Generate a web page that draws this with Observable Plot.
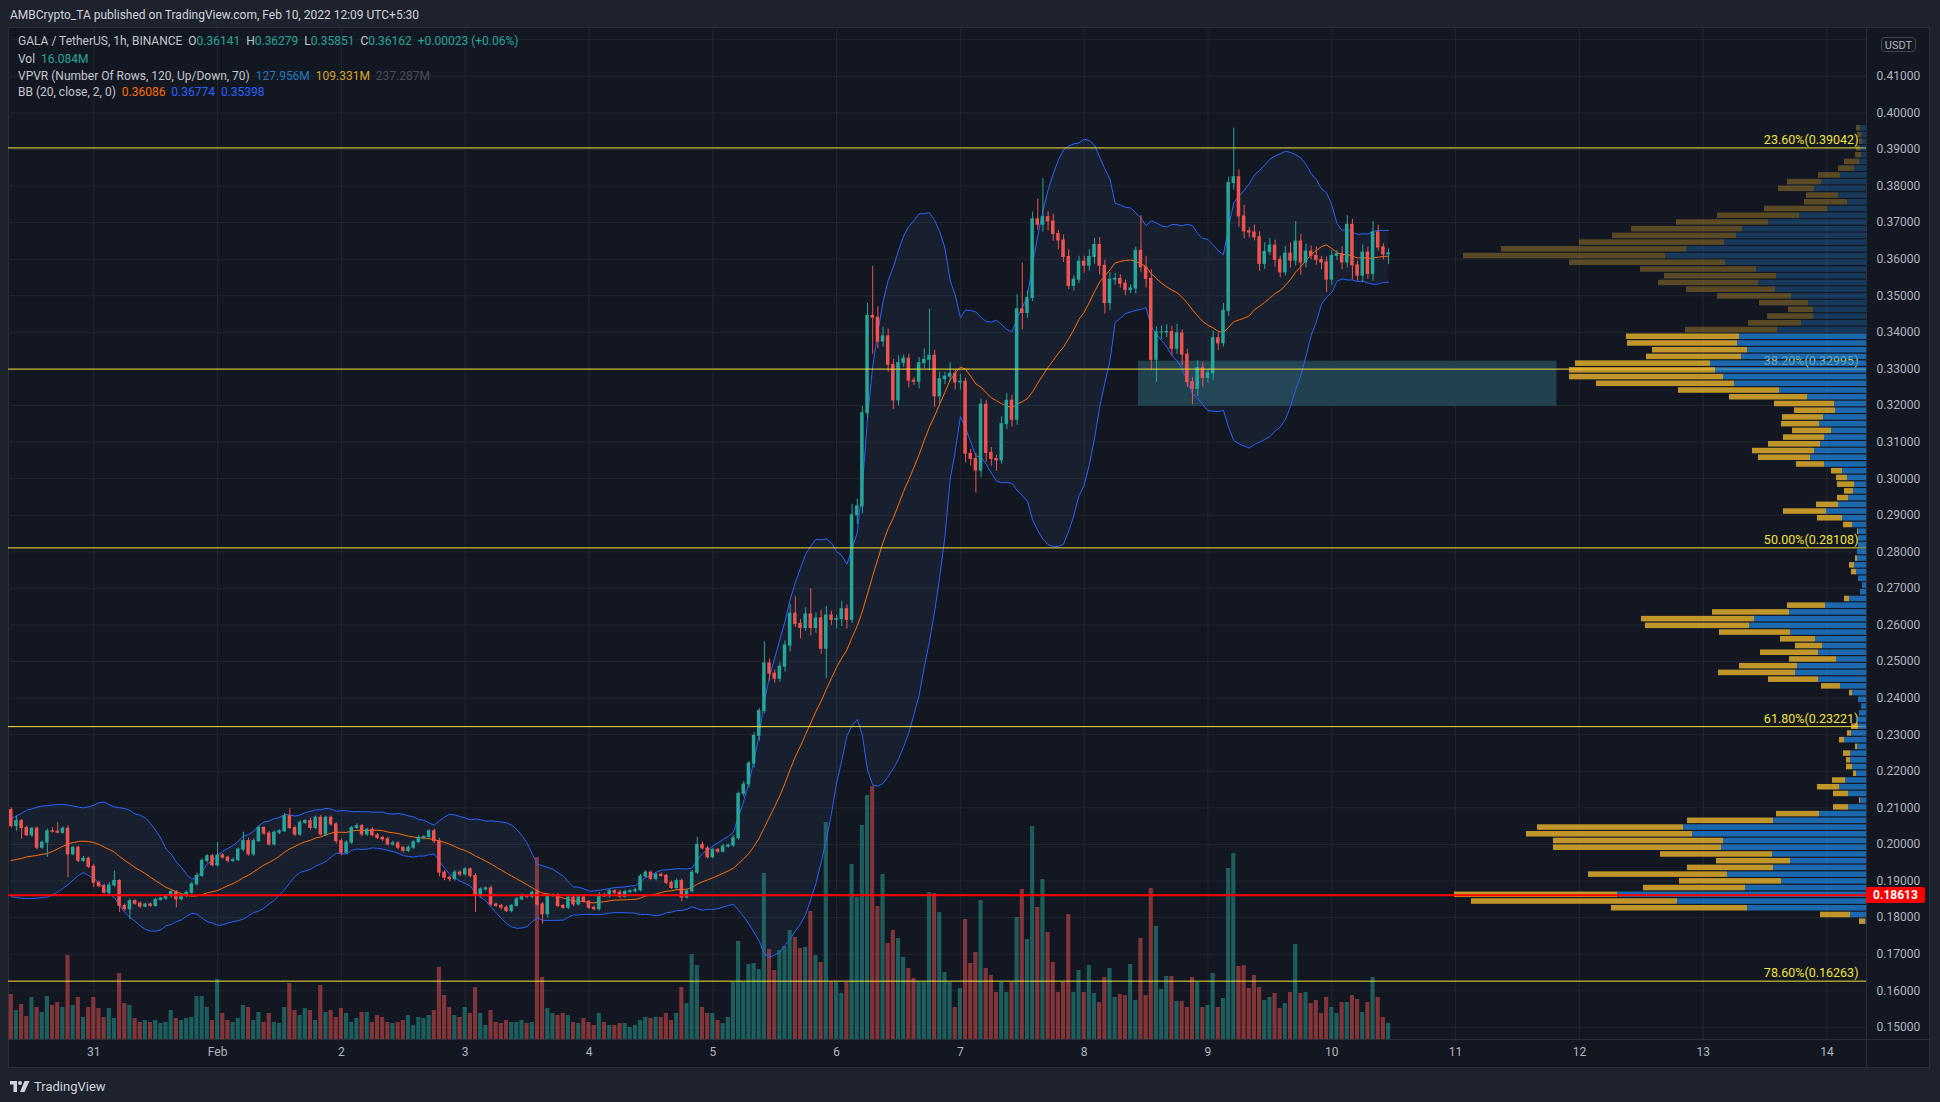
<!DOCTYPE html>
<html><head><meta charset="utf-8">
<script src="https://cdn.jsdelivr.net/npm/d3@7"></script>
<script src="https://cdn.jsdelivr.net/npm/@observablehq/plot@0.6"></script>
<style>
html,body{margin:0;padding:0;background:#1e222d;width:1940px;height:1102px;overflow:hidden;font-family:Roboto,"Noto Sans",sans-serif;}
#wrap{position:relative;width:1940px;height:1102px;}
#panel{position:absolute;left:8px;top:27px;width:1922px;height:1041px;background:#131722;border:1px solid #2a2e39;box-sizing:border-box;}
.layer{position:absolute;left:0;top:0;}
.sepv{position:absolute;left:1866px;top:27px;width:1px;height:1041px;background:#2a2e39;}
.seph{position:absolute;left:8px;top:1039px;width:1922px;height:1px;background:#2a2e39;}
.txt{position:absolute;white-space:pre;font-size:12px;line-height:16px;color:#b2b5be;}
.teal{color:#26a69a}
#redlbl{position:absolute;left:1866px;width:59px;height:16px;background:#ff0000;color:#fff;font-weight:bold;font-size:12px;line-height:16px;text-align:center;border-radius:0 2px 2px 0;}
#usdt{position:absolute;left:1881px;top:37px;width:35px;height:15px;border:1px solid #434651;border-radius:4px;color:#b2b5be;font-size:11px;line-height:15px;text-align:center;box-sizing:border-box;}
</style></head>
<body><div id="wrap">
<div id="panel"></div>
<div id="layers"></div>
<div class="sepv"></div><div class="seph"></div>
<div class="txt" style="left:10px;top:7px;font-size:12px;color:#d1d4dc">AMBCrypto_TA published on TradingView.com, Feb 10, 2022 12:09 UTC+5:30</div>
<div class="txt" style="left:18px;top:33px;color:#c3c6ce">GALA / TetherUS, 1h, BINANCE  O<span class="teal">0.36141</span>  H<span class="teal">0.36279</span>  L<span class="teal">0.35851</span>  C<span class="teal">0.36162</span>  <span class="teal">+0.00023 (+0.06%)</span></div>
<div class="txt" style="left:18px;top:51px;color:#c3c6ce">Vol  <span class="teal">16.084M</span></div>
<div class="txt" style="left:18px;top:68px;color:#c3c6ce">VPVR (Number Of Rows, 120, Up/Down, 70)  <span style="color:#2479c0">127.956M</span>  <span style="color:#d4a52a">109.331M</span>  <span style="color:#4a4e58">237.287M</span></div>
<div class="txt" style="left:18px;top:84px;color:#c3c6ce">BB (20, close, 2, 0)  <span style="color:#ff6d00">0.36086</span>  <span style="color:#2962ff">0.36774</span>  <span style="color:#2962ff">0.35398</span></div>
<div id="usdt">USDT</div>
<div id="redlbl">0.18613</div>
<div style="position:absolute;left:10px;top:1079px;display:flex;align-items:center;gap:4px;color:#d1d4dc;font-size:13px;">
<svg width="20" height="12" viewBox="0 0 20 12"><path d="M0 0h7v11H3.5V3.5H0z" fill="#d1d4dc"/><circle cx="10" cy="2" r="2" fill="#d1d4dc"/><path d="M14.5 0h5l-5 11h-4.5z" fill="#d1d4dc"/></svg>
<span>TradingView</span></div>
</div>
<script>
// ---------- DATA (prices in units of 0.0001) ----------
const P = 1e-4;
const startTime = Date.UTC(2022, 0, 30, 8);   // first hourly candle
const firstOpen = 2094;
const closes = [
 2050,2064,2045,2025,2043,1991,2005,2036,2035,2032,2043,1973,1991,1955,1961,1939,
 1895,1886,1868,1888,1900,1832,1823,1845,1838,1830,1836,1832,1848,1852,1859,1870,1850,1859,1868,1891,1914,1955,1968,1943,
 1970,1964,1955,1957,1986,2009,1973,2009,2045,2030,2000,2032,2036,2077,2045,2027,2059,2064,2045,2073,2027,2073,2055,2009,
 1977,2005,2045,2050,2027,2040,2025,2018,2014,2000,2003,1991,1982,1991,2006,2018,2020,2036,2009,1923,1909,1905,1923,1918,
 1932,1914,1859,1877,1880,1836,1832,1827,1818,1832,1850,1859,1857,1868,1836,1809,1859,1861,1832,1827,1855,1836,1855,1843,
 1827,1823,1862,1858,1872,1868,1857,1870,1872,1875,1912,1923,1906,1917,1914,1895,1881,1900,1855,1872,1923,1999,1989,1965,
 1985,1980,1994,1997,2017,2138,2164,2221,2297,2365,2495,2467,2453,2486,2544,2631,2603,2592,2629,2592,2618,2535,2626,2614,
 2616,2643,2614,2900,2924,3179,3445,3440,3375,3389,3311,3214,3316,3328,3268,3265,3316,3325,3336,3225,3272,3279,3287,3263,
 3265,3068,3054,3022,3202,3070,3054,3050,3149,3213,3161,3463,3453,3494,3709,3694,3715,3703,3669,3651,3606,3527,3544,3593,
 3582,3606,3639,3582,3480,3544,3546,3533,3516,3520,3623,3578,3546,3325,3400,3400,3401,3355,3397,3339,3264,3245,3302,3275,
 3288,3384,3370,3459,3808,3824,3717,3676,3673,3660,3587,3620,3637,3598,3564,3615,3596,3648,3591,3621,3609,3598,3591,3544,
 3609,3614,3591,3694,3583,3555,3618,3560,3673,3632,3613,3616
];
const upperWick = [
 6,13,4,5,3,5,4,6,10,24,5,8,4,5,6,4,
 6,4,5,8,27,4,5,6,4,5,3,4,5,3,4,6,4,3,5,6,8,6,4,5,
 36,5,4,6,5,25,8,6,5,4,6,5,4,8,21,5,6,4,8,5,6,4,5,4,
 6,5,4,7,5,4,6,5,4,5,6,4,3,5,4,6,5,4,6,8,5,4,6,5,
 5,4,6,5,4,6,3,4,5,4,5,6,4,5,8,5,7,4,5,4,6,5,4,5,
 4,5,6,4,5,4,6,5,4,5,6,5,4,4,5,4,5,6,5,4,6,20,8,6,
 5,4,6,4,7,5,8,6,9,7,60,12,10,10,12,25,46,12,18,70,15,22,25,12,
 10,22,12,30,20,18,35,136,30,25,20,15,20,10,12,8,15,30,127,15,20,12,30,10,
 20,10,12,15,15,12,15,10,20,20,15,40,126,20,20,55,105,15,20,10,15,20,10,15,
 15,20,18,20,15,20,15,12,10,10,10,96,30,25,15,18,20,15,25,10,15,12,20,15,
 10,20,15,20,16,134,20,30,10,20,15,25,20,15,10,20,30,55,20,20,15,25,10,15,
 15,10,20,25,15,12,20,15,30,20,10,12
];
const lowerWick = [
 5,14,31,4,6,6,4,40,4,3,4,64,4,5,4,5,
 13,5,4,6,5,18,6,28,4,5,3,4,4,3,5,6,23,4,5,4,5,4,6,4,
 5,4,6,5,4,6,5,5,4,6,5,4,5,3,4,6,5,4,6,5,4,6,5,8,
 8,4,5,4,6,5,4,5,6,4,5,6,5,4,5,4,6,5,7,12,8,6,5,6,
 4,6,45,5,4,5,4,6,4,5,3,4,5,6,5,27,10,4,5,4,5,6,4,3,
 5,4,5,3,4,5,6,4,5,4,5,4,5,6,4,5,4,5,12,4,5,5,4,5,
 4,5,3,4,5,6,8,10,12,15,8,20,12,10,15,18,10,30,10,22,15,15,82,15,
 25,20,25,10,25,20,15,100,20,15,20,25,15,12,20,10,20,15,30,30,20,15,15,20,
 20,25,20,62,20,25,20,30,10,15,20,15,46,15,10,15,20,25,20,25,15,10,15,10,
 20,15,20,25,30,20,15,12,15,10,15,15,25,30,62,20,15,20,15,30,15,43,20,25,
 15,20,20,10,15,20,30,20,15,10,20,15,10,20,15,10,20,15,35,15,10,15,20,35,
 15,12,20,15,40,15,20,15,20,10,15,28
];
// hourly volume, millions
const volumes = [
 45,29,35,23,42,32,27,43,34,37,32,84,34,42,22,32,
 42,31,22,31,21,66,36,34,21,17,19,17,19,16,17,29,21,19,21,22,43,43,32,19,
 60,26,19,17,21,34,32,19,27,17,26,17,16,32,56,29,24,31,29,19,54,27,29,22,
 31,26,17,21,27,27,17,24,22,17,16,17,19,24,14,22,21,24,29,72,44,32,24,22,
 32,26,52,26,14,29,17,16,19,17,17,19,16,17,182,62,31,26,24,26,24,17,16,21,
 17,14,26,17,14,14,16,16,12,14,19,22,21,22,22,26,19,26,52,36,85,74,32,26,
 26,19,16,22,57,98,57,75,76,70,166,90,69,89,93,109,102,91,92,128,84,77,217,57,
 57,46,57,175,142,214,244,253,133,165,96,109,101,82,71,61,57,57,147,146,127,67,57,32,
 51,120,76,87,139,71,64,47,57,47,57,122,150,100,213,132,160,107,77,47,57,125,47,69,
 47,74,46,37,62,71,42,45,44,75,39,101,44,151,113,50,63,63,38,38,32,62,57,32,
 34,66,32,41,171,186,73,74,51,64,52,39,42,46,31,36,47,95,46,47,36,39,26,42,
 32,26,37,37,44,40,27,37,62,42,22,16.084
];
// Bollinger values before the first full 20-bar window
const bbUpperHead = [2070,2078,2085,2094,2097,2102,2105,2106,2108,2109,2109,2108,2105,2102,2100,2103,2107,2114,2116];
const bbBasisHead = [1956,1959,1962,1966,1968,1970,1973,1975,1981,1988,1995,2002,2005,2008,2009,2008,2005,2000,1993];
const bbLowerHead = [1857,1855,1853,1852,1852,1853,1855,1856,1862,1870,1880,1890,1903,1915,1923,1915,1908,1895,1880];

// Volume profile (VPVR), 119 rows listed from top (high) to bottom (low)
const vpHigh = 0.39670, vpLow = 0.17797;
const vpUp = [6,5,4,6,5,7,12,26,45,52,28,19,39,67,98,124,130,142,180,201,141,110,90,108,91,75,58,53,53,65,89,127,129,119,125,156,151,143,132,87,59,32,31,43,47,35,42,46,52,56,42,24,19,12,13,18,28,40,24,14,8,8,8,9,9,12,10,8,4,6,17,41,77,112,117,76,51,44,48,30,69,71,48,26,14,8,5,7,9,8,15,22,9,16,16,14,10,21,27,18,6,18,47,93,183,174,143,145,94,76,93,139,85,121,249,189,119,16,1];
const vpDown = [4,4,3,4,6,15,16,22,34,36,32,43,63,82,92,111,124,145,185,202,156,116,112,100,89,74,49,25,46,53,92,113,110,95,95,135,146,154,138,101,78,60,41,41,38,39,41,52,62,52,28,11,11,17,9,11,22,43,25,9,1,0,0,0,2,5,5,0,0,0,5,38,77,113,104,71,35,27,58,47,58,77,50,19,3,0,0,0,0,7,4,5,2,7,4,6,3,13,22,15,1,15,43,86,146,166,170,168,112,74,86,139,102,102,163,206,136,30,6];
const vpValueAreaFirstRow = 31;

// Fibonacci levels and horizontal line
const fibLevels = [0.39042, 0.32995, 0.28108, 0.23221, 0.16263];
const fibLabels = ["23.60%(0.39042)", "38.20%(0.32995)", "50.00%(0.28108)", "61.80%(0.23221)", "78.60%(0.16263)"];
const redLevel = 0.18613;
const zone = {start: "2022-02-08T10:30Z", end: "2022-02-11T19:40Z", low: 0.31973, high: 0.33211};

// Axes
const priceTicks = [0.15,0.16,0.17,0.18,0.19,0.20,0.21,0.22,0.23,0.24,0.25,0.26,0.27,0.28,0.29,0.30,0.31,0.32,0.33,0.34,0.35,0.36,0.37,0.38,0.39,0.40,0.41];
const priceGrid = priceTicks.concat([0.42]);
const dayDates = ["2022-01-31","2022-02-01","2022-02-02","2022-02-03","2022-02-04","2022-02-05","2022-02-06","2022-02-07","2022-02-08","2022-02-09","2022-02-10","2022-02-11","2022-02-12","2022-02-13","2022-02-14"];
const dayLabels = ["31","Feb","2","3","4","5","6","7","8","9","10","11","12","13","14"];

// ---------- BUILD ----------
const H = 3600e3;
const base = Date.UTC(2022, 0, 31);
const xDomain = [new Date(base - 16.54 * H), new Date(base + 343.66 * H)];
const yDomain = [0.14668, 0.42334];
const UP = "#26a69a", DOWN = "#ef5350";

const candles = closes.map((c, i) => {
  const o = i === 0 ? firstOpen : closes[i - 1];
  return {
    t: new Date(startTime + i * H),
    o: o * P, c: c * P,
    h: (Math.max(o, c) + upperWick[i]) * P,
    l: (Math.min(o, c) - lowerWick[i]) * P,
    up: c >= o, v: volumes[i]
  };
});
const bb = candles.map((d, i) => {
  if (i < 19) return {t: d.t, u: bbUpperHead[i] * P, m: bbBasisHead[i] * P, l: bbLowerHead[i] * P};
  const w = candles.slice(i - 19, i + 1).map(k => k.c);
  const m = d3.mean(w);
  const sd = Math.sqrt(d3.mean(w, v => (v - m) ** 2));
  return {t: d.t, u: m + 2 * sd, m, l: m - 2 * sd};
});
const rowH = (vpHigh - vpLow) / vpUp.length;
const vp = vpUp.map((u, i) => ({
  y2: vpHigh - i * rowH, y1: vpHigh - (i + 1) * rowH,
  up: u, down: vpDown[i], va: i >= vpValueAreaFirstRow
}));
const fib = fibLevels.map((v, i) => ({v, label: fibLabels[i]}));
const dayTicks = dayDates.map(d => new Date(d + "T00:00Z"));
const labelOf = new Map(dayTicks.map((d, i) => [+d, dayLabels[i]]));

const common = {
  width: 1940, height: 1102,
  marginTop: 27, marginRight: 74, marginBottom: 63, marginLeft: 8,
  style: {background: "transparent", color: "#b2b5be", fontFamily: "Roboto, sans-serif", fontSize: "12px"}
};

// Layer A: grid + axes
const layerA = Plot.plot({
  ...common,
  x: {type: "utc", domain: xDomain, ticks: dayTicks, tickFormat: d => labelOf.get(+d), tickSize: 0, tickPadding: 8, label: null, axis: "bottom"},
  y: {domain: yDomain, ticks: priceTicks, tickFormat: d => d.toFixed(5), tickSize: 0, tickPadding: 10, label: null, axis: "right"},
  marks: [
    Plot.ruleY(priceGrid, {stroke: "#22262f", strokeWidth: 1}),
    Plot.ruleX(dayTicks, {stroke: "#22262f", strokeWidth: 1})
  ]
});

// Layer B: volume
const layerB = Plot.plot({
  ...common,
  x: {type: "utc", domain: xDomain, axis: null},
  y: {domain: [0, 1012], axis: null},
  marks: [
    Plot.rectY(candles, {
      x1: d => new Date(+d.t - 0.4 * H), x2: d => new Date(+d.t + 0.4 * H),
      y: "v", fill: d => d.up ? UP : DOWN, fillOpacity: 0.5
    })
  ]
});

// Layer C: price
const layerC = Plot.plot({
  ...common,
  x: {type: "utc", domain: xDomain, axis: null},
  y: {domain: yDomain, axis: null},
  marks: [
    Plot.rect([zone], {x1: d => new Date(d.start), x2: d => new Date(d.end), y1: "low", y2: "high", fill: "#21414e"}),
    Plot.areaY(bb, {x: "t", y1: "l", y2: "u", fill: "#5d8fd0", fillOpacity: 0.08}),
    Plot.lineY(bb, {x: "t", y: "u", stroke: "#2962ff", strokeWidth: 1}),
    Plot.lineY(bb, {x: "t", y: "l", stroke: "#2962ff", strokeWidth: 1}),
    Plot.lineY(bb, {x: "t", y: "m", stroke: "#ff6d00", strokeWidth: 1}),
    Plot.ruleX(candles, {x: "t", y1: "l", y2: "h", stroke: d => d.up ? UP : DOWN, strokeWidth: 1}),
    Plot.rect(candles, {
      x1: d => new Date(+d.t - 0.34 * H), x2: d => new Date(+d.t + 0.34 * H),
      y1: "o", y2: "c", fill: d => d.up ? UP : DOWN, insetTop: -0.5, insetBottom: -0.5
    }),
    Plot.ruleY(fib, {y: "v", stroke: "#f2e23c", strokeWidth: 1}),
    Plot.text(fib, {x: () => xDomain[1], y: "v", text: "label", textAnchor: "end", dx: -8, dy: -8, fill: "#f2e23c", fontSize: 12.5})
  ]
});

// Layer E: volume profile + horizontal red line
const layerE = Plot.plot({
  ...common,
  x: {domain: [1858, 0], axis: null},
  y: {domain: yDomain, axis: null},
  marks: [
    Plot.rect(vp, {x1: 0, x2: "up", y1: "y1", y2: "y2", fill: "#1e88e5", fillOpacity: d => d.va ? 0.72 : 0.3, insetTop: 0.6, insetBottom: 0.6}),
    Plot.rect(vp, {x1: "up", x2: d => d.up + d.down, y1: "y1", y2: "y2", fill: "#fbc02d", fillOpacity: d => d.va ? 0.75 : 0.3, insetTop: 0.6, insetBottom: 0.6}),
    Plot.ruleY([redLevel], {stroke: "#ff0000", strokeWidth: 2})
  ]
});

const host = document.getElementById("layers");
for (const el of [layerA, layerB, layerC, layerE]) { el.classList.add("layer"); host.appendChild(el); }
const ry = layerE.scale("y").apply(redLevel);
document.getElementById("redlbl").style.top = (ry - 8) + "px";
</script>
</body></html>
